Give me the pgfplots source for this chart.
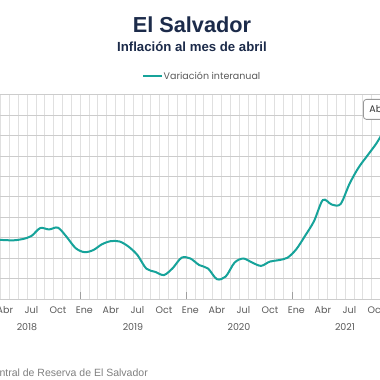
\documentclass[border=0pt]{standalone}
\usepackage{fontspec}
\setmainfont{Liberation Sans}
\newfontfamily\geo{Poppins}
\usepackage{pgfplots}
\pgfplotsset{compat=1.18}
\definecolor{teal1}{HTML}{16A39A}
\definecolor{navy}{HTML}{1C2B4A}
\definecolor{lbl}{HTML}{5A5A5A}
\begin{document}
\begin{tikzpicture}[x=1pt,y=1pt]
\useasboundingbox (0,0) rectangle (380,380);
\clip (0,0) rectangle (380,380);
\fill[white] (0,0) rectangle (380,380);
\node[anchor=base, inner sep=0, font=\fontsize{21.7}{24}\selectfont\bfseries, text=navy] at (192,347) {El Salvador};
\node[anchor=base, inner sep=0, font=\fontsize{13.2}{15}\selectfont\bfseries, text=navy] at (192,328) {Inflación al mes de abril};
\draw[teal1, line width=2pt] (143,304) -- (162,304);
\node[anchor=base west, inner sep=0, font=\geo\fontsize{9.5}{11}\selectfont, text=lbl] at (163.5,300.5) {Variación interanual};
\begin{axis}[
  at={(-26pt,81pt)}, anchor=south west,
  scale only axis, width=459.3pt, height=204.5pt,
  xmin=0, xmax=52, ymin=-2, ymax=8,
  clip=false,
  axis line style={draw=none},
  tick style={draw=none},
  major tick length=0pt, minor tick length=0pt,
  xtick={3.5,6.5,9.5,12.5,15.5,18.5,21.5,24.5,27.5,30.5,33.5,36.5,39.5,42.5,45.5},
  xticklabels={Abr,Jul,Oct,Ene,Abr,Jul,Oct,Ene,Abr,Jul,Oct,Ene,Abr,Jul,Oct},
  minor xtick={0,1,...,52},
  xminorgrids=true, xmajorgrids=false,
  minor x grid style={gray!24, line width=0.6pt},
  ytick={-2,-1,...,8},
  yticklabels={},
  ymajorgrids=true,
  major y grid style={gray!40, line width=0.6pt},
  xticklabel style={font=\geo\fontsize{9.5}{11}\selectfont, text=lbl, anchor=base, yshift=-14.7pt, inner sep=0pt},
  extra x ticks={6,18,30,42},
  extra x tick labels={2018,2019,2020,2021},
  extra x tick style={grid=none, xticklabel style={yshift=-17pt}},
]
\addplot[teal1, line width=2pt, smooth] coordinates {
(0.5,0.95) (1.5,0.92) (2.5,0.90) (3.5,0.88) (4.5,0.87) (5.5,0.93) (6.5,1.08) (7.5,1.47) (8.5,1.40) (9.5,1.49) (10.5,1.03) (11.5,0.49)
(12.5,0.29) (13.5,0.39) (14.5,0.68) (15.5,0.83) (16.5,0.81) (17.5,0.56) (18.5,0.15) (19.5,-0.51) (20.5,-0.67) (21.5,-0.83) (22.5,-0.49) (23.5,0.02)
(24.5,-0.02) (25.5,-0.34) (26.5,-0.51) (27.5,-1.03) (28.5,-0.90) (29.5,-0.22) (30.5,-0.02) (31.5,-0.22) (32.5,-0.38) (33.5,-0.17) (34.5,-0.10) (35.5,0.02)
(36.5,0.44) (37.5,1.10) (38.5,1.81) (39.5,2.84) (40.5,2.62) (41.5,2.64) (42.5,3.62) (43.5,4.40) (44.5,4.99) (45.5,5.57) (46.5,6.20) (47.5,6.10)
(48.5,5.90) (49.5,5.60) (50.5,6.60) (51.5,6.50)
};
\draw[gray!75, line width=0.6pt] (axis cs:12,-2) -- ++(0,-34pt);
\draw[gray!75, line width=0.6pt] (axis cs:24,-2) -- ++(0,-34pt);
\draw[gray!75, line width=0.6pt] (axis cs:36,-2) -- ++(0,-34pt);
\draw[gray!75, line width=0.6pt] (axis cs:48,-2) -- ++(0,-34pt);
\end{axis}
\node[draw=gray!80, line width=0.8pt, rounded corners=3pt, fill=white, anchor=north west, minimum height=20pt, font=\geo\fontsize{9.5}{11}\selectfont, text=black!80, inner xsep=6pt] at (363,281) {Abr 2022: 6.5\%};
\node[anchor=base east, inner sep=0, font=\fontsize{10.5}{12}\selectfont, text=gray] at (148,3) {Fuente: Banco Central de Reserva de El Salvador};
\end{tikzpicture}
\end{document}
